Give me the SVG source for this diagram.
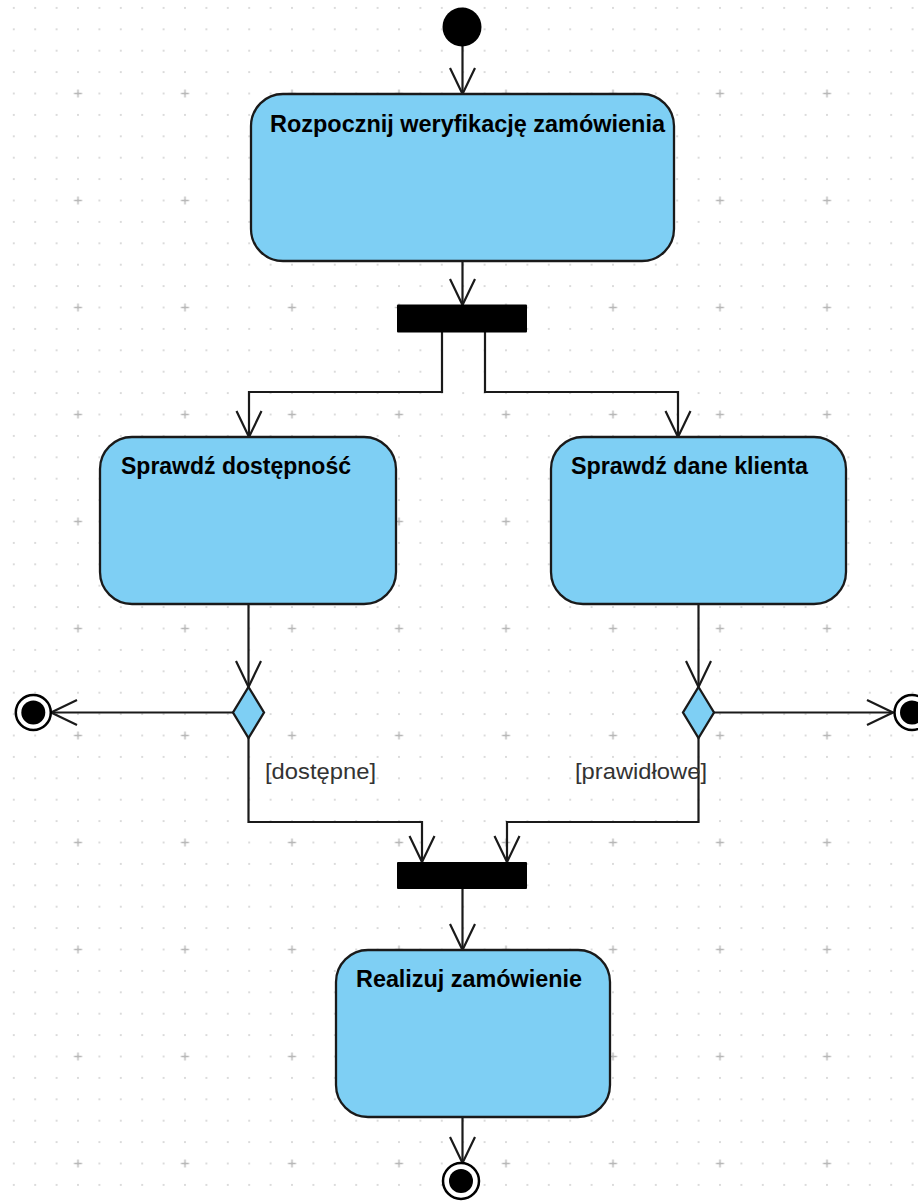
<svg xmlns="http://www.w3.org/2000/svg" width="918" height="1201" viewBox="0 0 918 1201">
  <defs>
    <pattern id="dots" patternUnits="userSpaceOnUse" x="3.1" y="-2.8" width="21.4" height="21.4">
      <circle cx="10.7" cy="10.7" r="1" fill="#cfcfcf"/>
    </pattern>
    <pattern id="plus" patternUnits="userSpaceOnUse" x="24.5" y="40" width="107" height="107">
      <path d="M49.5 53.5 H57.5 M53.5 49.5 V57.5" stroke="#b8b8b8" stroke-width="1.4"/>
    </pattern>
    <marker id="arr" markerUnits="userSpaceOnUse" viewBox="-30 -16 32 32" refX="0" refY="0" markerWidth="32" markerHeight="32" orient="auto">
      <path d="M-26,-12.5 L0,0 L-26,12.5" fill="none" stroke="#1a1a1a" stroke-width="2.2"/>
    </marker>
  </defs>
  <style>
    .act { fill: #7ecff4; stroke: #1a1a1a; stroke-width: 2.3; }
    .bar { fill: #000; }
    .dec { fill: #7ecff4; stroke: #1a1a1a; stroke-width: 2.3; }
    .edge { fill: none; stroke: #1a1a1a; stroke-width: 2.2; marker-end: url(#arr); }
    .title { font-family: "Liberation Sans", Arial, sans-serif; font-weight: bold; font-size: 23px; fill: #000; }
    .lbl { font-family: "Liberation Sans", Arial, sans-serif; font-size: 22px; fill: #333; }
  </style>
  <rect width="918" height="1201" fill="#fff"/>
  <rect width="918" height="1201" fill="url(#dots)"/>
  <rect width="918" height="1201" fill="url(#plus)"/>

  <g id="connectors">
    <path class="edge" d="M462.5,46 V94"/>
    <path class="edge" d="M462.5,261 V305"/>
    <path class="edge" d="M442,332 V392 H249 V437"/>
    <path class="edge" d="M485,332 V392 H678 V437"/>
    <path class="edge" d="M248.5,604 V687"/>
    <path class="edge" d="M698.5,604 V687"/>
    <path class="edge" d="M233,712.5 H51"/>
    <path class="edge" d="M714,712.5 H893"/>
    <path class="edge" d="M248.5,738 V822 H422 V862"/>
    <path class="edge" d="M698.5,738 V822 H507 V862"/>
    <path class="edge" d="M462.5,889 V950"/>
    <path class="edge" d="M462.5,1117 V1163"/>
  </g>

  <g id="start">
    <circle cx="462" cy="27" r="19.5" fill="#000"/>
  </g>

  <g id="act-rozpocznij">
    <rect class="act" x="251" y="94" width="423" height="167" rx="32"/>
    <text class="title" x="270" y="132" textLength="395" lengthAdjust="spacingAndGlyphs">Rozpocznij weryfikację zamówienia</text>
  </g>

  <g id="fork1">
    <rect class="bar" x="397" y="304.5" width="130" height="28" rx="1"/>
  </g>

  <g id="act-dostepnosc">
    <rect class="act" x="100" y="437" width="296" height="167" rx="32"/>
    <text class="title" x="121" y="474" textLength="230" lengthAdjust="spacingAndGlyphs">Sprawdź dostępność</text>
  </g>

  <g id="act-klient">
    <rect class="act" x="551" y="437" width="295" height="167" rx="32"/>
    <text class="title" x="571" y="474" textLength="237" lengthAdjust="spacingAndGlyphs">Sprawdź dane klienta</text>
  </g>

  <g id="dec1">
    <polygon class="dec" points="248.5,687 264,712.5 248.5,738 233,712.5"/>
  </g>

  <g id="dec2">
    <polygon class="dec" points="698.5,687 714,712.5 698.5,738 683,712.5"/>
  </g>

  <g id="end-left">
    <circle cx="33.3" cy="712.5" r="17.5" fill="#fff" stroke="#000" stroke-width="2.5"/>
    <circle cx="33.3" cy="712.5" r="12" fill="#000"/>
  </g>

  <g id="end-right">
    <circle cx="912" cy="712.5" r="17.5" fill="#fff" stroke="#000" stroke-width="2.5"/>
    <circle cx="912" cy="712.5" r="12" fill="#000"/>
  </g>

  <g id="guard-dostepne">
    <text class="lbl" x="265" y="779" textLength="111" lengthAdjust="spacingAndGlyphs">[dostępne]</text>
  </g>

  <g id="guard-prawidlowe">
    <text class="lbl" x="575" y="779" textLength="132" lengthAdjust="spacingAndGlyphs">[prawidłowe]</text>
  </g>

  <g id="join">
    <rect class="bar" x="397" y="862" width="130" height="27" rx="1"/>
  </g>

  <g id="act-realizuj">
    <rect class="act" x="336" y="950" width="274" height="167" rx="32"/>
    <text class="title" x="356" y="987" textLength="226" lengthAdjust="spacingAndGlyphs">Realizuj zamówienie</text>
  </g>

  <g id="end-bottom">
    <circle cx="461" cy="1181" r="18" fill="#fff" stroke="#000" stroke-width="2.5"/>
    <circle cx="461" cy="1181" r="12" fill="#000"/>
  </g>
</svg>
